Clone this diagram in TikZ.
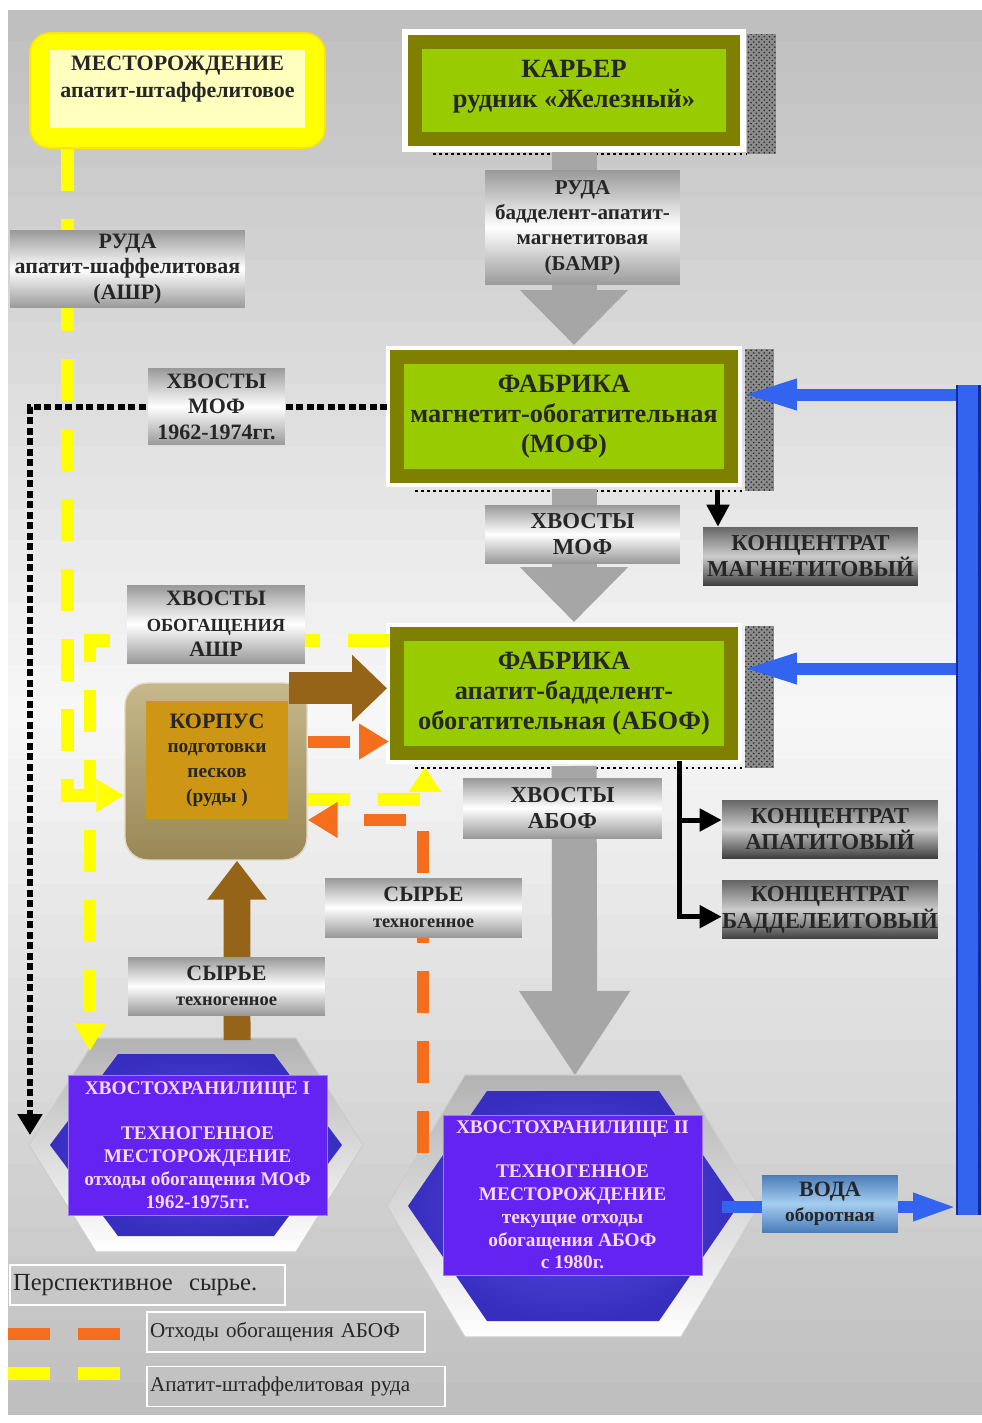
\documentclass[tikz,border=0pt]{standalone}
\usepackage{fontspec}
\setmainfont{Liberation Serif}
\usetikzlibrary{positioning, arrows.meta, calc, patterns}

\definecolor{olivefr}{RGB}{128,128,0}
\definecolor{limefill}{RGB}{153,204,0}
\definecolor{oreyellow}{RGB}{255,255,0}
\definecolor{paleyellow}{RGB}{255,255,190}
\definecolor{wasteorange}{RGB}{245,110,30}
\definecolor{sandbrown}{RGB}{150,100,25}
\definecolor{korpusout}{RGB}{180,160,100}
\definecolor{korpusin}{RGB}{205,150,20}
\definecolor{pondviolet}{RGB}{100,35,240}
\definecolor{pondblue}{RGB}{90,80,230}
\definecolor{ponddeep}{RGB}{55,45,190}
\definecolor{pondtext}{RGB}{250,215,255}
\definecolor{pipeblue}{RGB}{50,100,240}
\definecolor{pipedark}{RGB}{20,40,160}
\definecolor{waterlight}{RGB}{165,205,240}
\definecolor{waterdark}{RGB}{75,125,185}
\definecolor{flowgray}{RGB}{166,166,166}

\begin{document}
\begin{tikzpicture}[
  x=0.02cm, y=-0.02cm,
  font=\bfseries,
  plant/.style={draw=olivefr, fill=limefill, line width=0.28cm, outer sep=0pt,
    preaction={draw=white, line width=0.46cm},
    minimum width=6.68cm, minimum height=2.38cm, inner sep=0pt, align=center,
    text=black!85, font=\bfseries\fontsize{15}{17}\selectfont},
  shadowpat/.style={pattern=crosshatch dots, pattern color=black!85, preaction={fill=black!45}},
  tag/.style={top color=black!40, bottom color=black!40, middle color=white,
    minimum width=3.9cm, minimum height=1.16cm, inner sep=0pt, align=center,
    text=black!85, font=\bfseries\fontsize{12.5}{14.5}\selectfont},
  conc/.style={top color=black!60, bottom color=black!75, middle color=black!20,
    minimum width=4.3cm, minimum height=1.16cm, inner sep=0pt, align=center,
    text=black!85, font=\bfseries\fontsize{13}{15}\selectfont},
  waterbox/.style={top color=waterdark, bottom color=waterdark, middle color=waterlight,
    minimum width=2.72cm, minimum height=1.14cm, inner sep=0pt, align=center,
    text=black!85, font=\bfseries\fontsize{12.5}{14}\selectfont},
  pondrect/.style={fill=pondviolet, draw=pondviolet!60!white, minimum width=5.18cm,
    inner sep=0pt, align=center, text=pondtext, font=\bfseries\fontsize{11}{13}\selectfont},
  legendbox/.style={draw=white, line width=0.8pt, minimum height=0.8cm, inner xsep=0.06cm,
    align=left, text=black!85, font=\mdseries\fontsize{12}{14}\selectfont},
  flow/.style={draw=flowgray, line width=0.9cm, -{Triangle[length=1.1cm, width=2.1cm]}},
  outlet/.style={draw=black, line width=0.1cm, -{Triangle[length=0.44cm, width=0.44cm]}},
  water/.style={draw=pipeblue, line width=0.24cm, -{Triangle[length=1.1cm, width=0.56cm]}},
  feed/.style={draw=sandbrown, -{Triangle[length=0.7cm, width=1.3cm]}},
  oreflow/.style={draw=oreyellow, line width=0.26cm, dash pattern=on 0.84cm off 0.56cm,
    -{Triangle[length=0.56cm, width=0.62cm]}},
  wasteflow/.style={draw=wasteorange, line width=0.24cm, dash pattern=on 0.84cm off 0.56cm,
    -{Triangle[length=0.6cm, width=0.68cm]}},
  oldtails/.style={draw=black, line width=0.13cm, dash pattern=on 0.14cm off 0.07cm,
    -{Triangle[length=0.42cm, width=0.48cm]}}
]

% background
\useasboundingbox (0,0) rectangle (982,1423);
\fill[white] (0,0) rectangle (982,1423);
\foreach \i in {0,...,44} {
  \pgfmathsetmacro{\shadepct}{3+22*abs(\i-22)/22}
  \fill[black!\shadepct] (8,{10+\i*31.2}) rectangle (982,{11+(\i+1)*31.2});
}

% deposit
\node[fill=oreyellow, draw=oreyellow!80!orange, line width=1pt, rounded corners=0.4cm,
  minimum width=5.9cm, minimum height=2.3cm] (mesto) at (177.5,90.5) {};
\node[fill=paleyellow, minimum width=5.1cm, minimum height=1.56cm] (mestoin) at (177.5,89) {};
\node[align=center, text=black!85, font=\bfseries\fontsize{12.5}{15}\selectfont] (mestotext) at (177.5,79)
  {МЕСТОРОЖДЕНИЕ\\апатит-штаффелитовое};

% pit and plants
\node[plant, minimum width=6.36cm, minimum height=1.94cm, preaction={draw=white, line width=0.52cm}] (karier) at (574,90.5)
  {КАРЬЕР\\рудник «Железный»\\[-9pt]\mbox{}};
\node[plant] (mof) at (564,416.5) {ФАБРИКА\\магнетит-обогатительная\\(МОФ)};
\node[plant] (abof) at (564,693.5) {ФАБРИКА\\апатит-бадделент-\\обогатительная (АБОФ)};
\foreach \p in {karier,mof,abof} {
  \fill[shadowpat] ([xshift=0.28cm, yshift=0.16cm]\p.north east) rectangle ([xshift=0.86cm, yshift=-0.3cm]\p.south east);
  \draw[dotted, line width=0.05cm] ([xshift=0.36cm, yshift=-0.3cm]\p.south west) -- ([xshift=0.28cm, yshift=-0.3cm]\p.south east);
}

% main gray flows
\draw[flow] ([yshift=-0.26cm]karier.south) -- ([yshift=0.24cm]mof.north -| karier.south);
\node[tag, minimum height=2.3cm, font=\bfseries\fontsize{12}{14.5}\selectfont] (rudabamr) at (582.5,227.5)
  {РУДА\\бадделент-апатит-\\магнетитовая\\(БАМР)};
\draw[flow] ([yshift=-0.26cm]mof.south -| karier.south) -- ([yshift=0.24cm]abof.north -| karier.south);
\node[tag, font=\bfseries\fontsize{13}{15}\selectfont] (hvmof) at (582.5,534) {ХВОСТЫ\\МОФ};
\coordinate (pondII) at (573,1206);
\coordinate (pondIItop) at (575,1076);
\draw[flow, -{Triangle[length=1.7cm, width=2.1cm]}] ([yshift=-0.26cm]abof.south -| karier.south) -- (pondIItop);
\node[tag, minimum width=3.98cm, minimum height=1.2cm, font=\bfseries\fontsize{13}{15}\selectfont] (hvabof) at (562.5,808) {ХВОСТЫ\\АБОФ};

% concentrates
\node[conc] (konmag) at (810.5,556) {КОНЦЕНТРАТ\\МАГНЕТИТОВЫЙ};
\node[conc, minimum width=4.32cm] (konapat) at (830,829) {КОНЦЕНТРАТ\\АПАТИТОВЫЙ};
\node[conc, minimum width=4.32cm, below=0.44cm of konapat] (konbad) {КОНЦЕНТРАТ\\БАДДЕЛЕИТОВЫЙ};
\coordinate (mofout) at ([xshift=3.08cm, yshift=-0.28cm]mof.south);
\draw[outlet] (mofout) -- (mofout |- konmag.north);
\coordinate (abofout) at ([xshift=2.32cm, yshift=-0.16cm]abof.south);
\draw[outlet] (abofout) |- ([yshift=0.18cm]konapat.west);
\draw[outlet] (abofout) |- ([yshift=-0.14cm]konbad.west);

% recycled water
\coordinate (pipetop) at (968,385);
\coordinate (pipebot) at (968,1215);
\coordinate (mofin) at ([xshift=0.22cm, yshift=0.44cm]mof.east);
\coordinate (abofin) at ([xshift=0.22cm, yshift=0.5cm]abof.east);
\draw[water] (mofin -| pipetop) -- (mofin);
\draw[water] (abofin -| pipetop) -- (abofin);
\node[waterbox] (voda) at (830,1203.5) {ВОДА\\{\fontsize{11}{13}\selectfont оборотная}};
\coordinate (pipein) at (958,1207);
\draw[water, -{Triangle[length=0.9cm, width=0.5cm]}] (voda.east |- pipein) -- (pipein);
\draw[pipeblue, line width=0.4cm, preaction={draw=pipedark, line width=0.5cm}] (pipetop) -- (pipebot);

% tailing ponds
\coordinate (pondI) at (196,1145);
\foreach \pond/\halfw/\halfh/\edge in {pondI/167/107/100,pondII/186/131/108} {
  \shade[top color=black!30, middle color=black!10, bottom color=white, draw=white!80!black, line width=0.6pt]
    ($(\pond)+(-\halfw,0)$) -- ($(\pond)+(-\edge,-\halfh)$) -- ($(\pond)+(\edge,-\halfh)$)
    -- ($(\pond)+(\halfw,0)$) -- ($(\pond)+(\edge,\halfh)$) -- ($(\pond)+(-\edge,\halfh)$) -- cycle;
  \shade[inner color=pondblue, outer color=ponddeep]
    ($(\pond)+(-\halfw+21,0)$) -- ($(\pond)+(-\edge+22,-\halfh+16)$) -- ($(\pond)+(\edge-22,-\halfh+16)$)
    -- ($(\pond)+(\halfw-21,0)$) -- ($(\pond)+(\edge-22,\halfh-16)$) -- ($(\pond)+(-\edge+22,\halfh-16)$) -- cycle;
}
\node[pondrect, minimum height=2.8cm] (pondIbox) at (197.5,1145)
  {ХВОСТОХРАНИЛИЩЕ I\\[13pt]ТЕХНОГЕННОЕ\\МЕСТОРОЖДЕНИЕ\\отходы обогащения МОФ\\1962-1975гг.};
\node[pondrect, minimum height=3.2cm] (pondIIbox) at (572.5,1195)
  {ХВОСТОХРАНИЛИЩЕ II\\[12pt]ТЕХНОГЕННОЕ\\МЕСТОРОЖДЕНИЕ\\текущие отходы\\обогащения АБОФ\\с 1980г.};
\coordinate (pondIIright) at (722,1207);
\draw[pipeblue, line width=0.24cm] (pondIIright) -- (pondIIright -| voda.west);

% sand preparation
\node[draw=korpusout!40!white, line width=0.8pt, top color=korpusout!75!white, bottom color=korpusout!85!black,
  rounded corners=0.45cm, minimum width=3.64cm, minimum height=3.54cm] (korpus) at (216,771.5) {};
\node[fill=korpusin, minimum width=2.84cm, minimum height=2.36cm, inner sep=0pt, align=center,
  text=black!85, font=\bfseries\fontsize{11}{14}\selectfont] (korpusbox) at (217,760)
  {{\fontsize{12.5}{14}\selectfont КОРПУС}\\подготовки\\песков\\(руды )};

% old MOF tails
\coordinate (pondIleft) at (30,1135);
\draw[oldtails] ([xshift=-0.2cm, yshift=0.19cm]mof.west) -| (pondIleft);

% apatite-staffelite ore
\draw[oreflow] ([xshift=0.76cm]mesto.south west) |- ([yshift=-0.48cm]korpus.west);
\coordinate (pondIore) at (90,1051);
\draw[oreflow] ([xshift=-0.14cm, yshift=1.06cm]abof.west) -| (pondIore);
\draw[oreflow, -{Triangle[length=0.5cm, width=0.62cm]}] ([yshift=-0.55cm]korpus.east) -| ([xshift=0.56cm, yshift=-0.28cm]abof.south west);

% ABOF tails
\draw[wasteflow] ([yshift=0.6cm]korpus.east) -- ([xshift=-0.16cm, yshift=0.6cm]korpus.east -| abof.west);
\coordinate (pondIIwaste) at (423,1153);
\draw[wasteflow] (pondIIwaste) |- ([yshift=-0.97cm]korpus.east);

% brown feeds
\coordinate (feedA) at ([xshift=-0.38cm, yshift=-0.12cm]korpus.north east);
\draw[feed, line width=0.64cm] (feedA) -- ([xshift=-0.2cm]feedA -| abof.west);
\coordinate (pondItop) at ($(pondI)+(41,-105)$);
\draw[feed, line width=0.54cm, -{Triangle[length=0.78cm, width=1.14cm]}] (pondItop) -- ([xshift=0.42cm]korpus.south);

% labels on the left
\node[tag, minimum width=4.7cm, minimum height=1.56cm] (rudaashr) at (127.5,269) {РУДА\\апатит-шаффелитовая\\(АШР)};
\node[tag, minimum width=2.74cm, minimum height=1.54cm] (hvmofold) at (216.5,406.5) {ХВОСТЫ\\МОФ\\1962-1974гг.};
\node[tag, minimum width=3.56cm, minimum height=1.56cm] (hvashr) at (216,624)
  {ХВОСТЫ\\{\fontsize{10.5}{13}\selectfont ОБОГАЩЕНИЯ}\\АШР};
\node[tag, minimum width=3.94cm] (syrleft) at (226.5,986) {СЫРЬЕ\\{\fontsize{10.5}{13}\selectfont техногенное}};
\node[tag, minimum width=3.94cm, minimum height=1.18cm] (syrmid) at (423.5,907.5) {СЫРЬЕ\\{\fontsize{10.5}{13}\selectfont техногенное}};

% legend
\node[legendbox, text width=5.38cm, font=\mdseries\fontsize{14}{16}\selectfont] (perspect) at (147.5,1285) {Перспективное\ \ сырье.};
\node[legendbox, text width=5.44cm] (legwaste) at (286,1332) {Отходы обогащения АБОФ};
\node[legendbox, text width=5.84cm, below=0.26cm of legwaste.south west, anchor=north west] (legore) {Апатит-штаффелитовая руда};
\coordinate (keywaste) at (8,1334);
\coordinate (keyore) at (8,1373);
\draw[wasteflow, -] (keywaste) -- ++(112,0);
\draw[oreflow, -] (keyore) -- ++(112,0);

\end{tikzpicture}
\end{document}
